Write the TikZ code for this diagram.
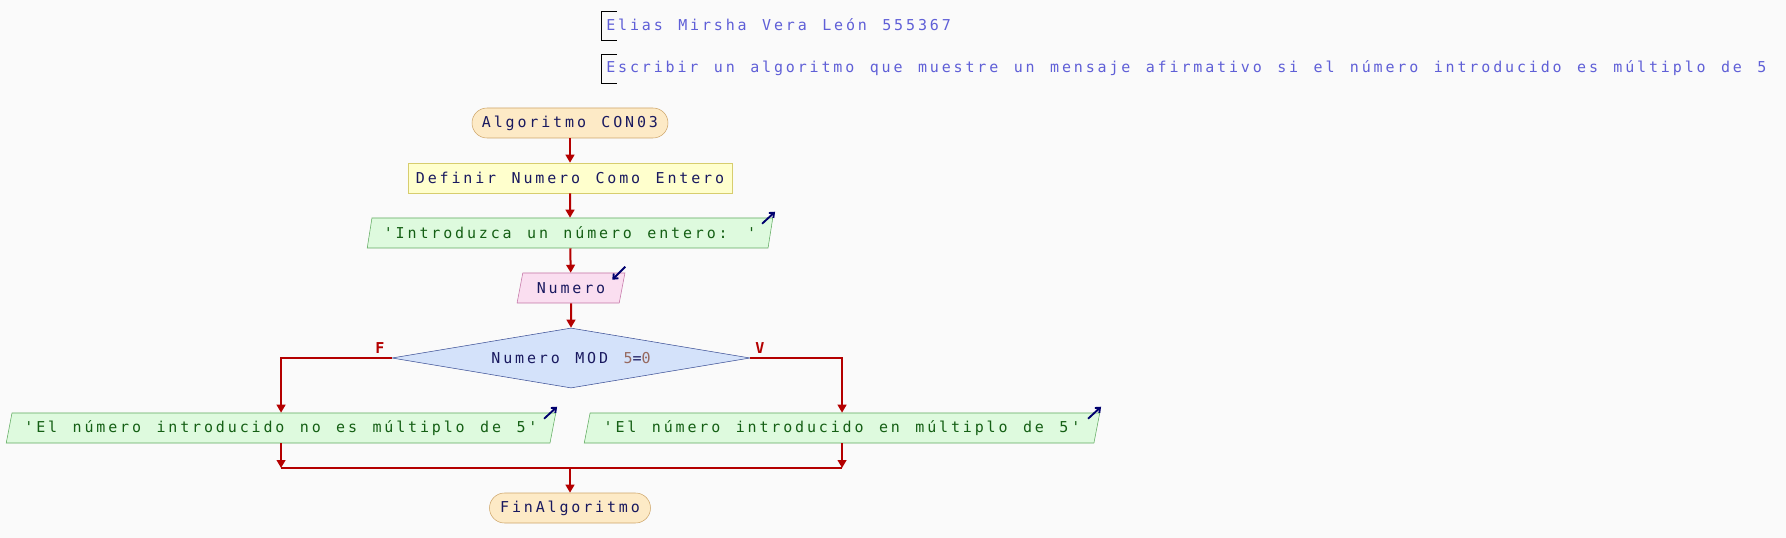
\documentclass[tikz,border=0pt]{standalone}
\usepackage{fontspec}
\usetikzlibrary{shapes.geometric,arrows.meta}
\newfontfamily\psfont{DejaVu Sans Mono}[LetterSpace=19,WordSpace=1.30]
\definecolor{fondo}{RGB}{250,250,250}
\definecolor{flecha}{RGB}{180,0,0}
\definecolor{tinta}{RGB}{25,25,95}
\definecolor{titulo}{RGB}{95,95,215}
\definecolor{numlit}{RGB}{150,105,95}

\begin{document}
\begin{tikzpicture}[x=0.75pt,y=-0.75pt,
	font=\psfont\fontsize{11.25}{13}\selectfont,
	terminal/.style={draw={rgb,255:red,205;green,165;blue,105},fill={rgb,255:red,253;green,234;blue,198},text=tinta,rounded corners=11.25pt,minimum height=22.5pt,inner sep=0pt},
	proceso/.style={draw={rgb,255:red,215;green,205;blue,110},fill={rgb,255:red,255;green,255;blue,205},text=tinta,minimum height=22.5pt,inner sep=0pt},
	salida/.style={trapezium,trapezium left angle=70,trapezium right angle=110,trapezium stretches=true,draw={rgb,255:red,95;green,170;blue,95},fill={rgb,255:red,222;green,250;blue,222},text={rgb,255:red,20;green,95;blue,20},minimum height=22.5pt,inner sep=0pt},
	entrada/.style={salida,draw={rgb,255:red,195;green,115;blue,165},fill={rgb,255:red,250;green,222;blue,240},text=tinta},
	decision/.style={diamond,aspect=6,draw={rgb,255:red,60;green,80;blue,150},fill={rgb,255:red,212;green,226;blue,250},text=tinta,minimum width=268.5pt,minimum height=45pt,inner sep=0pt},
	flujo/.style={draw=flecha,line width=1.5pt},
	punta/.style={flujo,-{Triangle[length=6pt,width=6.5pt]}},
	icono/.style={draw={rgb,255:red,0;green,0;blue,110},line width=1.4pt,-{Straight Barb[length=3pt,width=5pt]}},
	rama/.style={text=flecha,font=\psfont\bfseries\fontsize{11.25}{13}\selectfont,inner sep=0pt}]
	\fill[fondo] (0,0) rectangle (1786,538);
	% encabezado
	\draw (617,11) -- (601,11) -- (601,40) -- (617,40);
	\draw (617,54) -- (601,54) -- (601,83) -- (617,83);
	\node[text=titulo,anchor=west,inner sep=0pt] (autor) at (606,25) {Elias Mirsha Vera León 555367};
	\node[text=titulo,anchor=west,inner sep=0pt] (enunciado) at (606,68) {Escribir un algoritmo que muestre un mensaje afirmativo si el número introducido es múltiplo de 5};
	% diagrama
	\node[terminal,minimum width=147pt] (inicio) at (570,123) {Algoritmo CON03};
	\node[proceso,minimum width=243pt] (definir) at (570,178) {Definir Numero Como Entero};
	\node[salida,minimum width=304.5pt] (intro) at (570,233) {'Introduzca un número entero: '};
	\node[entrada,minimum width=81pt] (numero) at (571,288) {Numero};
	\node[decision] (cond) at (571,358) {Numero MOD \textcolor{numlit}{5}=\textcolor{numlit}{0}};
	\node[salida,minimum width=414pt] (noes) at (281,428) {'El número introducido no es múltiplo de 5'};
	\node[salida,minimum width=387pt] (sies) at (842,428) {'El número introducido en múltiplo de 5'};
	\node[terminal,minimum width=120.75pt] (fin) at (570,508) {FinAlgoritmo};
	\node[rama] (etF) at (380,348) {F};
	\node[rama] (etV) at (760,348) {V};
	\coordinate (junta) at (570,468);
	\draw[punta] (inicio) -- (definir);
	\draw[punta] (definir) -- (intro);
	\draw[punta] (intro) -- (numero);
	\draw[punta] (numero) -- (cond);
	\draw[punta] (cond.west) -| (noes.north);
	\draw[punta] (cond.east) -| (sies.north);
	\draw[punta] (noes.south) -- (noes.south |- junta);
	\draw[punta] (sies.south) -- (sies.south |- junta);
	\draw[flujo] (noes.south |- junta) -- (sies.south |- junta);
	\draw[punta] (junta) -- (fin);
	\draw[icono] ([shift={(-11,6)}]intro.top right corner) -- ++(13,-12);
	\draw[icono] ([shift={(0,-6)}]numero.top right corner) -- ++(-13,13);
	\draw[icono] ([shift={(-12,6)}]noes.top right corner) -- ++(13,-12);
	\draw[icono] ([shift={(-12,6)}]sies.top right corner) -- ++(13,-12);
\end{tikzpicture}
\end{document}
